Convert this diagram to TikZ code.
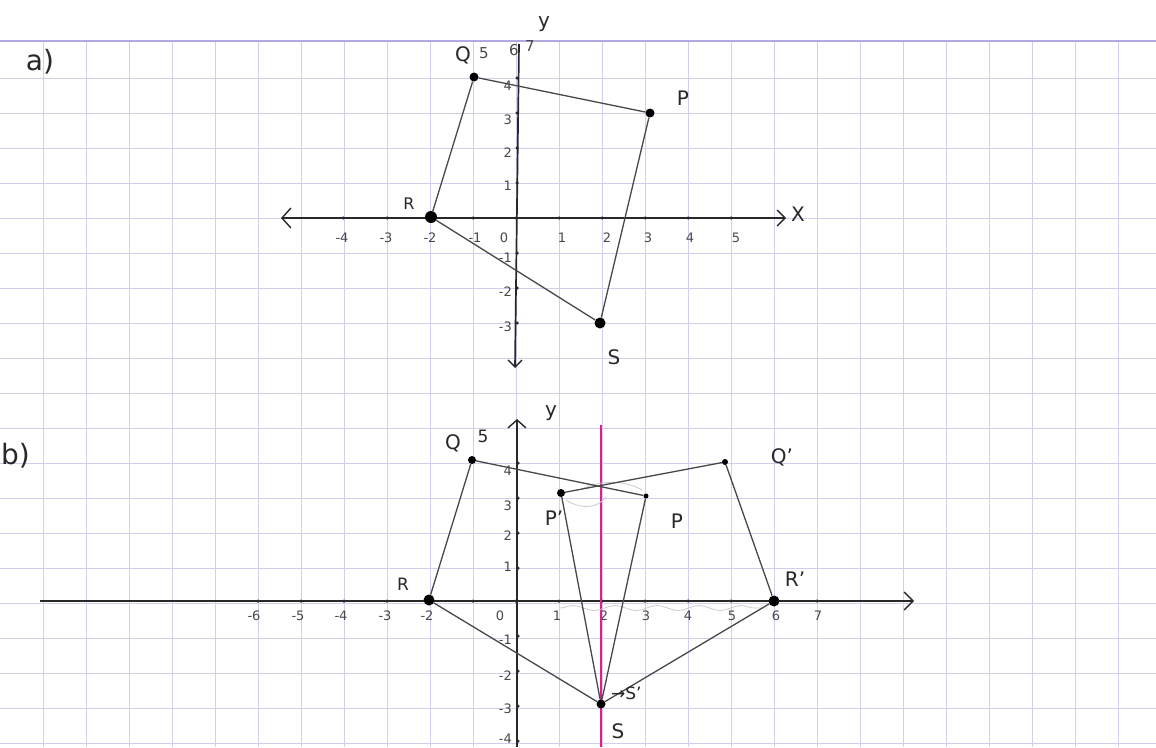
\documentclass[tikz,border=0pt]{standalone}
\usepackage{fontspec}
\setmainfont{DejaVu Sans}
\usetikzlibrary{arrows.meta,decorations.pathmorphing}
\definecolor{gridc}{RGB}{208,208,238}
\definecolor{marginc}{RGB}{178,168,226}
\definecolor{ink}{RGB}{40,40,40}
\definecolor{pinkc}{RGB}{228,28,140}
\begin{document}
\begin{tikzpicture}[x=1pt,y=-1pt,
  axis/.style={ink, line width=1.7pt},
  edge/.style={ink!85, line width=1.3pt},
  dot/.style={circle, fill=black, inner sep=0pt, minimum size=#1},
  dot/.default=8pt,
  tickdot/.style={circle, fill=ink, inner sep=0pt, minimum size=3.5pt},
  lab/.style={text=ink, inner sep=0pt, font=\fontsize{20}{20}\selectfont},
  big/.style={text=ink, inner sep=0pt, font=\fontsize{28}{28}\selectfont},
  tick/.style={text=ink!85, inner sep=0pt, font=\fontsize{13}{13}\selectfont},
  barb/.style={-{Straight Barb[length=9pt,width=18pt,line width=1.4pt]}},
  faint/.style={gray!40, line width=0.8pt}]
\useasboundingbox (0,0) rectangle (1156,747);
\fill[white] (0,0) rectangle (1156,747);
% graph paper
\foreach \gx in {43,86,...,1118} \draw[gridc, line width=1pt] (\gx,40) -- (\gx,747);
\foreach \gy in {78,113,...,743} \draw[gridc, line width=1pt] (0,\gy) -- (1156,\gy);
\draw[marginc, line width=1.6pt] (0,41) -- (1156,41);

% ================= part a =================
\node[big] (alab) at (40,62) {a)};
\coordinate (axL) at (281,218);
\coordinate (axR) at (786,218);
\coordinate (ayT) at (519,44);
\coordinate (ayB) at (515,368);
\draw[axis, {Straight Barb[length=9pt,width=20pt,line width=1.4pt]}-{Straight Barb[length=8pt,width=16pt,line width=1.4pt]}] (axL) -- (axR);
\draw[axis, -{Straight Barb[length=7pt,width=14pt,line width=1.4pt]}] (ayT) -- (ayB);
\foreach \tx in {343,387,473,516,559,602,645,688,731} \node[tickdot] at (\tx,218) {};
\foreach \ty in {78,113,148,183,253,288,323} \node[tickdot] at (517,\ty) {};
\foreach \tx/\tl in {342/-4,386/-3,430/-2,475/-1,504/0,562/1,607/2,648/3,690/4,736/5}
  \node[tick] at (\tx,238) {\tl};
\foreach \ty/\tl in {86/4,120/3,153/2,186/1,258/-1,292/-2,327/-3}
  \node[tick, anchor=east] at (512,\ty) {\tl};
\node[lab] (xa) at (798,214) {X};
\node[lab] (ya) at (544,24) {y};
\node[dot=9pt] (Qa) at (474,77) {};
\node[dot=9pt] (Pa) at (650,113) {};
\node[dot=12pt] (Ra) at (431,217) {};
\node[dot=11pt] (Sa) at (600,323) {};
\draw[edge] (Qa) -- (Pa);
\draw[edge] (Pa) -- (Sa);
\draw[edge] (Sa) -- (Ra);
\draw[edge] (Ra) -- (Qa);
\node[lab] (Qal) at (463,55) {Q};
\node[tick, font=\fontsize{15}{15}\selectfont] (a5) at (484,53) {5};
\node[tick, font=\fontsize{15}{15}\selectfont] (a6) at (514,50) {6};
\node[tick, font=\fontsize{15}{15}\selectfont] (a7) at (530,46) {7};
\node[lab] (Pal) at (683,98) {P};
\node[lab, font=\fontsize{16}{16}\selectfont] (Ral) at (409,204) {R};
\node[lab] (Sal) at (614,357) {S};

% ================= part b =================
\node[big, anchor=west] (blab) at (1,456) {b)};
\coordinate (bxL) at (40,601);
\coordinate (bxR) at (914,601);
\coordinate (byB) at (517,747);
\coordinate (byT) at (517,419);
\draw[axis, barb] (bxL) -- (bxR);
\draw[axis, -{Straight Barb[length=8pt,width=18pt,line width=1.4pt]}] (byB) -- (byT);
\foreach \tx in {258,301,344,387,473,516,559,602,645,688,731,817} \node[tickdot] at (\tx,601) {};
\foreach \ty in {463,498,533,568,636,671,706,741} \node[tickdot] at (518,\ty) {};
\foreach \tx/\tl in {254/-6,298/-5,341/-4,385/-3,427/-2,500/0,557/1,604/2,646/3,688/4,732/5,776/6,818/7}
  \node[tick] at (\tx,616) {\tl};
\foreach \ty/\tl in {471/4,506/3,536/2,567/1,640/-1,676/-2,709/-3,739/-4}
  \node[tick, anchor=east] at (512,\ty) {\tl};
\node[lab] (yb) at (551,413) {y};
% mirror line
\coordinate (mT) at (601,425);
\coordinate (mB) at (601,747);
\draw[pinkc, line width=2.6pt] (mT) -- (mB);
% faint pencil marks
\draw[faint, decorate, decoration={snake, amplitude=2.5pt, segment length=42pt}] (560,608) -- (768,608);
\draw[faint] (566,500) .. controls (582,510) and (598,508) .. (606,497);
\draw[faint] (582,489) .. controls (600,480) and (625,480) .. (642,490);
% points
\node[dot=8pt] (Qb) at (472,460) {};
\node[dot=5pt] (Pb) at (646,496) {};
\node[dot=11pt] (Rb) at (429,600) {};
\node[dot=9pt] (Sb) at (601,704) {};
\node[dot=6pt] (Qpb) at (725,462) {};
\node[dot=8pt] (Ppb) at (561,493) {};
\node[dot=11pt] (Rpb) at (774,601) {};
\draw[edge] (Qb) -- (Pb);
\draw[edge] (Qb) -- (Rb);
\draw[edge] (Rb) -- (Sb);
\draw[edge] (Sb) -- (Pb);
\draw[edge] (Qpb) -- (Ppb);
\draw[edge] (Qpb) -- (Rpb);
\draw[edge] (Rpb) -- (Sb);
\draw[edge] (Sb) -- (Ppb);
% labels
\node[lab] (Qbl) at (453,443) {Q};
\node[lab, font=\fontsize{17}{17}\selectfont] (b5) at (483,436) {5};
\node[lab] (Pbl) at (677,521) {P};
\node[lab] (Ppbl) at (554,518) {P'};
\node[lab] (Qpbl) at (782,457) {Q'};
\node[lab] (Rpbl) at (795,579) {R'};
\node[lab, font=\fontsize{17}{17}\selectfont] (Rbl) at (403,584) {R};
\node[lab] (Sbl) at (618,731) {S};
\node[lab, anchor=west, font=\fontsize{17}{17}\selectfont] (Spbl) at (611,693) {→S'};
\end{tikzpicture}
\end{document}
